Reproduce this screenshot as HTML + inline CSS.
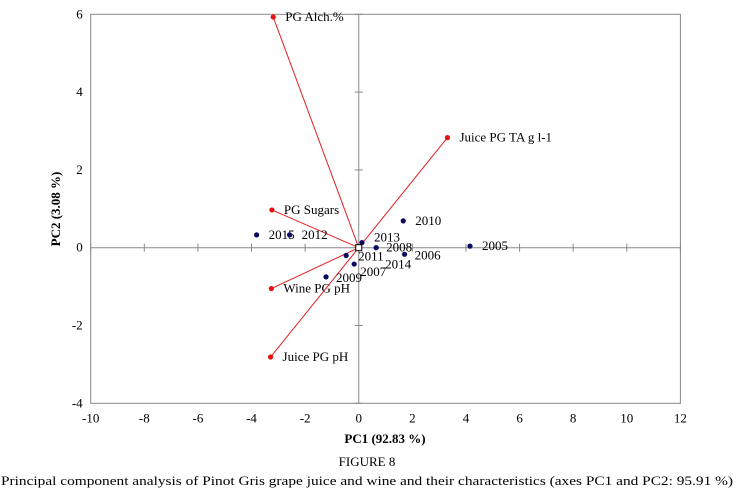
<!DOCTYPE html>
<html><head><meta charset="utf-8"><style>
html,body{margin:0;padding:0;background:#fff;}
svg{display:block;font-family:"Liberation Serif",serif;}
</style></head><body>
<svg id="c" width="740" height="492"></svg>
<script>
const xTicks=[-10,-8,-6,-4,-2,0,2,4,6,8,10,12];
const yTicks=[-4,-2,0,2,4,6];
const varNames=["PG Alch.%","Juice PG TA g l-1","PG Sugars","Wine PG pH","Juice PG pH"];
const varX=[-3.19,3.31,-3.24,-3.26,-3.29];
const varY=[5.93,2.83,0.97,-1.05,-2.81];
const obsNames=["2015","2012","2013","2010","2008","2005","2006","2011","2007","2009","2014"];
const obsX=[-3.81,-2.58,0.12,1.66,0.65,4.15,1.71,-0.47,-0.17,-1.22,0.65];
const obsY=[0.33,0.33,0.13,0.69,0.0,0.04,-0.17,-0.20,-0.42,-0.75,0.0];
const varLab=[[12,4],[12,4],[12,4],[12,4],[12,4]];
const obsLab=[[12,4],[12,4],[12,-1],[12,4],[10,4],[12,4],[10,5],[12,5],[6,12],[10,5],[9,21]];
const L=90.7,R=680.4,T=14.3,B=403.3;
const sx=v=>L+(v+10)/22*(R-L);
const sy=v=>B-(v+4)/10*(B-T);
const svg=document.getElementById('c');
const NS="http://www.w3.org/2000/svg";
function mk(t,a,p){const e=document.createElementNS(NS,t);for(const k in a)e.setAttribute(k,a[k]);(p||svg).appendChild(e);return e;}
let e=mk('rect',{x:L,y:T,width:R-L,height:B-T,fill:'none',stroke:'#888','stroke-width':1});


e=mk('line',{x1:L,x2:R,y1:sy(0),y2:sy(0),stroke:'#888'});


e=mk('line',{x1:sx(0),x2:sx(0),y1:T,y2:B,stroke:'#888'});


xTicks.forEach(v=>{
  e=mk('line',{x1:sx(v),x2:sx(v),y1:sy(0)-4,y2:sy(0)+4,stroke:'#888'});
  
  
  e=mk('text',{x:sx(v),y:B+19,'text-anchor':'middle','font-size':13,fill:'#000'});
  e.textContent=v;
  
  
});
yTicks.forEach(v=>{
  e=mk('line',{x1:sx(0)-4,x2:sx(0)+4,y1:sy(v),y2:sy(v),stroke:'#888'});
  
  
  e=mk('text',{x:L-8,y:sy(v)+4,'text-anchor':'end','font-size':13,fill:'#000'});
  e.textContent=v;
  
  
});
varNames.forEach((n,i)=>{
  e=mk('line',{x1:sx(0),y1:sy(0),x2:sx(varX[i]),y2:sy(varY[i]),stroke:'#e02020','stroke-width':1});
  
  
  e=mk('circle',{cx:sx(varX[i]),cy:sy(varY[i]),r:2.6,fill:'#e81010'});
  
  
  e=mk('text',{x:sx(varX[i])+varLab[i][0],y:sy(varY[i])+varLab[i][1],'font-size':13,fill:'#000'});
  e.textContent=n;
  
  
});
obsNames.forEach((n,i)=>{
  e=mk('circle',{cx:sx(obsX[i]),cy:sy(obsY[i]),r:2.6,fill:'#0a0a60'});
  
  
  e=mk('text',{x:sx(obsX[i])+obsLab[i][0],y:sy(obsY[i])+obsLab[i][1],'font-size':13,fill:'#000'});
  e.textContent=n;
  
  
});
e=mk('rect',{x:sx(0)-3,y:sy(0)-3,width:6,height:6,fill:'#fff',stroke:'#000'});


e=mk('text',{x:385,y:443,'text-anchor':'middle','font-size':13,'font-weight':'bold'});
e.textContent="PC1 (92.83 %)";


e=mk('text',{x:0,y:0,'text-anchor':'middle','font-size':13,'font-weight':'bold',transform:'translate(60,209) rotate(-90)'});
e.textContent="PC2 (3.08 %)";


e=mk('text',{x:367,y:466,'text-anchor':'middle','font-size':13});
e.textContent="FIGURE 8";


e=mk('text',{x:1,y:485,'font-size':13,textLength:732,lengthAdjust:'spacingAndGlyphs'});
e.textContent="Principal component analysis of Pinot Gris grape juice and wine and their characteristics (axes PC1 and PC2: 95.91 %)";


</script>
</body></html>
